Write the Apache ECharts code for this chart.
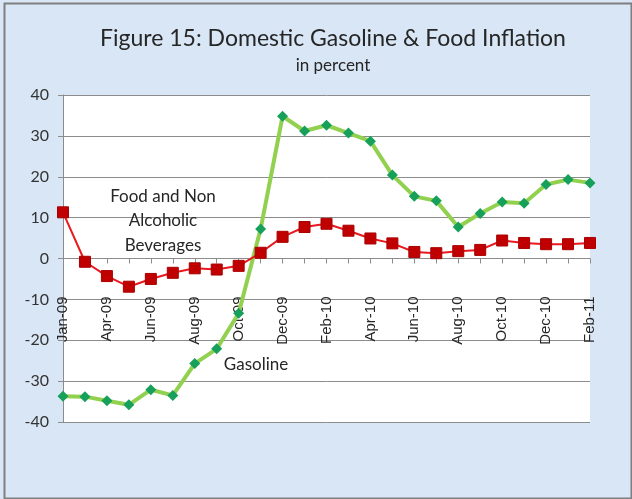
<!DOCTYPE html>
<html lang="en">
<head>
    <meta charset="UTF-8">
    <title>Domestic Gasoline & Food Inflation</title>
    <script src="https://cdn.jsdelivr.net/npm/echarts@6/dist/echarts.min.js"></script>
    <style>
        html, body { margin: 0; padding: 0; background: #d8e6f5; }
        #chart { width: 632px; height: 499px; }
    </style>
</head>
<body>
<div id="chart"></div>

<script>
    // months (index 1 label is never shown in the original)
    var months = ['Jan-09', 'Mar-09', 'Apr-09', 'May-09', 'Jun-09', 'Jul-09', 'Aug-09', 'Sep-09', 'Oct-09',
        'Nov-09', 'Dec-09', 'Jan-10', 'Feb-10', 'Mar-10', 'Apr-10', 'May-10', 'Jun-10', 'Jul-10',
        'Aug-10', 'Sep-10', 'Oct-10', 'Nov-10', 'Dec-10', 'Jan-11', 'Feb-11'];
    var gasoline = [-33.7, -33.8, -34.8, -35.8, -32.1, -33.5, -25.7, -22.1, -13.4, 7.2, 34.8, 31.2, 32.6,
        30.7, 28.7, 20.4, 15.2, 14.1, 7.7, 11.0, 13.8, 13.5, 18.1, 19.3, 18.5];
    var food = [11.3, -0.8, -4.3, -6.9, -5.0, -3.5, -2.4, -2.7, -1.8, 1.4, 5.3, 7.7, 8.5,
        6.8, 4.9, 3.7, 1.6, 1.3, 1.8, 2.1, 4.4, 3.8, 3.5, 3.5, 3.8];
    var yTicks = {min: -40, max: 40, step: 10};

    var gridTop = 95, gridBottom = 77, chartH = 499;
    // put the category axis on the zero line (offset from grid bottom)
    var plotH = chartH - gridTop - gridBottom;
    var zeroOffset = -plotH * (0 - yTicks.min) / (yTicks.max - yTicks.min);

    var chart = echarts.init(document.getElementById('chart'));
    var option = {
        backgroundColor: '#d8e6f5',
        animation: false,
        title: [
            {
                text: 'Figure 15: Domestic Gasoline & Food Inflation',
                left: 328, top: 22, textAlign: 'center',
                textStyle: {fontFamily: 'Lato', fontSize: 23, fontWeight: 'normal', color: '#262626'}
            },
            {
                text: 'in percent',
                left: 328, top: 52, textAlign: 'center',
                textStyle: {fontFamily: 'Lato', fontSize: 17, fontWeight: 'normal', color: '#262626'}
            }
        ],
        grid: {
            left: 63, right: 42, top: gridTop, bottom: gridBottom,
            outerBoundsMode: 'none',
            show: true, backgroundColor: '#ffffff', borderWidth: 0
        },
        xAxis: {
            type: 'category',
            data: months,
            boundaryGap: false,
            position: 'bottom',
            offset: zeroOffset,
            axisLine: {onZero: false, lineStyle: {color: '#8c8c8c', width: 1}},
            axisTick: {show: true, interval: 0, length: 5, lineStyle: {color: '#8c8c8c'}},
            axisLabel: {
                interval: 1, rotate: 90, margin: 38,
                fontFamily: 'Liberation Sans', fontSize: 15, color: '#262626'
            },
            splitLine: {show: false}
        },
        yAxis: {
            type: 'value',
            min: yTicks.min, max: yTicks.max, interval: yTicks.step,
            axisLine: {show: true, lineStyle: {color: '#8c8c8c'}},
            axisTick: {show: true, length: 5, lineStyle: {color: '#8c8c8c'}},
            axisLabel: {fontFamily: 'Lato', fontSize: 16, color: '#333333', margin: 14},
            splitLine: {lineStyle: {color: '#8c8c8c', width: 1}}
        },
        series: [
            {
                name: 'Gasoline',
                type: 'line',
                data: gasoline,
                symbol: 'diamond', symbolSize: 11,
                lineStyle: {color: '#92d050', width: 4},
                itemStyle: {color: '#16a05a'}
            },
            {
                name: 'Food and Non Alcoholic Beverages',
                type: 'line',
                data: food,
                symbol: 'rect', symbolSize: 11,
                lineStyle: {color: '#e8191f', width: 2},
                itemStyle: {color: '#c00000', borderColor: '#a80000', borderWidth: 1}
            }
        ],
        graphic: [
            {
                type: 'rect', left: 2, top: 1, z: 100, silent: true,
                shape: {width: 627, height: 495},
                style: {fill: 'none', stroke: '#7f7f7f', lineWidth: 2}
            },
            {
                type: 'text', x: 163, y: 184, z: 100,
                style: {
                    text: 'Food and Non\nAlcoholic\nBeverages', align: 'center',
                    font: '17px Lato', lineHeight: 24.5, fill: '#262626'
                }
            },
            {
                type: 'text', x: 256, y: 356, z: 100,
                style: {text: 'Gasoline', align: 'center', font: '17px Lato', fill: '#262626'}
            }
        ]
    };
    chart.setOption(option);
</script>
</body>
</html>
